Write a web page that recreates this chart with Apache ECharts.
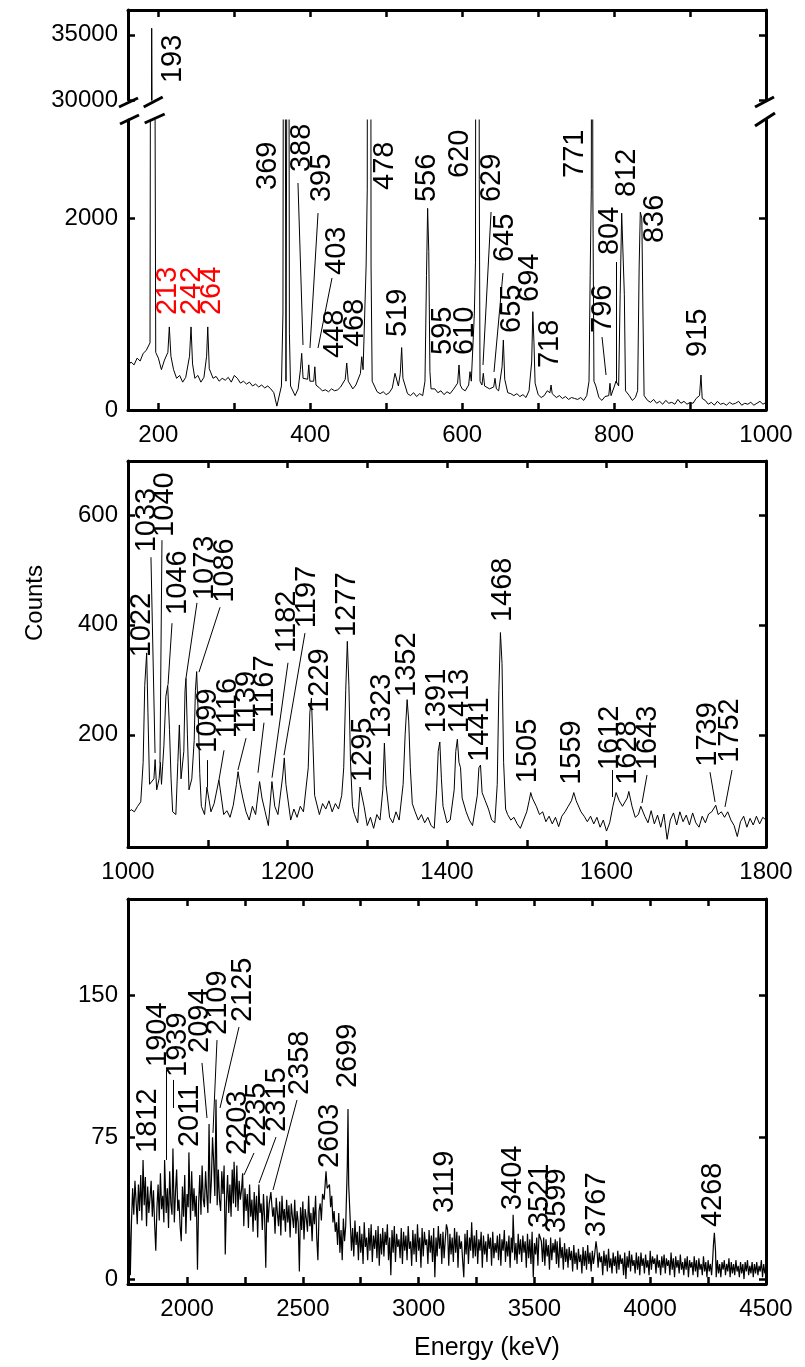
<!DOCTYPE html>
<html>
<head>
<meta charset="utf-8">
<script src="https://cdn.jsdelivr.net/npm/echarts@6.0.0/dist/echarts.min.js"></script>
<style>
  html, body { margin: 0; padding: 0; background: #fff; }
  #chart { width: 805px; height: 1367px; }
</style>
</head>
<body>
<div id="chart"></div>
<script>
// ---- panel 1 : 160-1000 keV (broken y axis) ----
const p1Start = 160, p1Step = 4;
const p1Background = [
  460, 500, 470, 540, 510, 590, 620, 690, 700, 680,
  540, 420, 520, 480, 560, 420, 330, 360, 290, 340,
  420, 380, 330, 360, 290, 340, 380, 360, 330, 350,
  300, 330, 310, 340, 290, 360, 330, 280, 300, 270,
  290, 250, 270, 240, 260, 230, 250, 220, 180, 40,
  250, 300, 300, 300, 200, 150, 220, 300, 300, 350,
  300, 240, 200, 230, 200, 210, 190, 220, 200, 210,
  240, 330, 400, 300, 220, 260, 350, 400, 400, 400,
  400, 300, 190, 170, 190, 160, 180, 230, 380, 250,
  300, 210, 170, 150, 180, 140, 170, 150, 210, 300,
  220, 220, 180, 200, 160, 190, 170, 210, 250, 300,
  220, 200, 290, 300, 300, 300, 300, 300, 240, 220,
  250, 260, 200, 300, 250, 180, 170, 150, 170, 140,
  160, 130, 200, 300, 300, 160, 130, 150, 200, 250,
  180, 130, 150, 120, 140, 110, 130, 120, 110, 130,
  100, 150, 300, 300, 250, 130, 100, 140, 170, 200,
  250, 250, 250, 250, 250, 150, 100, 130, 200, 200,
  150, 100, 80, 110, 70, 90, 60, 100, 70, 80,
  60, 110, 70, 90, 60, 80, 70, 120, 150, 150,
  100, 60, 80, 50, 90, 60, 70, 50, 80, 60,
  70, 90, 50, 70, 60, 80, 50, 70, 90, 60,
  80
];
const p1Peaks = [
  [189, 700], [189.8, 5000], [191.2, 35500], [192.5, 20000], [194.5, 8000], [195.5, 3500], [196.5, 600],
  [212.5, 600], [214.4, 865], [216.5, 560],
  [241, 560], [243, 865], [245, 480],
  [263.5, 560], [265, 865], [267, 430],
  [362, 250], [364, 1000], [365.5, 9000], [371, 9000], [372.5, 800], [374, 250],
  [387, 420], [388.7, 590], [390.5, 330],
  [396.5, 320], [398, 470], [399.5, 300],
  [404.5, 300], [406, 450], [407.5, 260],
  [446, 320], [448, 489], [450, 300],
  [466, 380], [467.7, 555], [469.5, 420],
  [472, 400], [473.5, 1500], [475, 2300], [476, 12000], [479, 12000], [480, 1500], [481.5, 300],
  [511.5, 382],
  [518.5, 380], [520.3, 650], [522, 330],
  [551, 300], [553, 1400], [554.5, 2100], [556, 1650], [557.5, 400], [559, 220],
  [594, 280], [595.8, 469], [597.5, 260],
  [608.5, 260], [610.3, 399], [612, 300],
  [614, 300], [616, 1000], [617.5, 1540], [618.5, 9000], [621.5, 9000], [622.5, 2400], [623.5, 300],
  [626, 260], [627.8, 382], [629.5, 250],
  [641.5, 240], [643.2, 330], [645, 220],
  [652.5, 450], [654.2, 729], [656, 320],
  [691.5, 500], [693, 1024], [694.5, 700], [696, 280],
  [715.5, 180], [717, 260], [718.5, 170],
  [767, 300], [768.5, 1400], [770, 2300], [771, 9000], [772, 2300], [773.5, 300],
  [793, 150], [794.6, 278], [796, 150],
  [800.5, 250], [802.5, 300],
  [806, 250], [808, 1200], [810, 2050], [812, 2050], [813.5, 1200], [815, 200],
  [831, 200], [833, 1500], [834.5, 2060], [836.5, 2000], [838, 1000], [839.5, 150],
  [912.5, 150], [914.4, 364], [916, 120]
];
const p1TopLabels = [[219, 31300, '193']];
const p1Labels = [
  [212.7, 989, '213'], [244.3, 989, '242'], [270.6, 989, '264'],
  [344.3, 2291, '369'], [389.1, 2478, '388'], [415.4, 2166, '395'], [435.2, 1406, '403'],
  [432.5, 541, '448'], [458.9, 656, '468'], [498.4, 2291, '478'], [515.5, 760, '519'],
  [553.7, 2166, '556'], [574.7, 573, '595'], [603.7, 573, '610'], [597.1, 2416, '620'],
  [639.3, 2166, '629'], [656.4, 1541, '645'], [665.6, 802, '655'], [689.3, 1125, '694'],
  [715.6, 437, '718'], [748.5, 2416, '771'], [785.4, 802, '796'], [794.6, 1614, '804'],
  [817.0, 2218, '812'], [853.9, 1739, '836'], [910.5, 552, '915']
];
const p1Leaders = [
  [383.8, 2364, 390.4, 677], [410.2, 2051, 399.6, 646], [428.6, 1375, 410.2, 646],
  [638, 2062, 627.4, 469], [653.7, 1427, 641.9, 396], [784.1, 760, 789.4, 364],
  [802.5, 1541, 802.5, 281]
];
const redLabels = ['213', '242', '264'];
const p1XTicks = [200, 300, 400, 500, 600, 700, 800, 900, 1000];
const p1XLabels = [200, 400, 600, 800, 1000];
const p1TopYTicks = [30000, 35000];
const p1LowYTicks = [0, 2000];

// ---- panel 2 : 1000-1800 keV ----
const p2Start = 1000, p2Step = 4;
const p2Background = [
  58, 64, 60, 70, 78, 150, 250, 90, 120, 95,
  130, 150, 200, 250, 130, 55, 80, 150, 90, 150,
  120, 200, 200, 75, 55, 70, 60, 75, 65, 80,
  55, 62, 50, 72, 90, 110, 85, 60, 45, 70,
  55, 80, 85, 60, 35, 100, 70, 55, 80, 120,
  60, 45, 65, 50, 70, 60, 75, 200, 150, 70,
  55, 75, 65, 80, 60, 75, 65, 90, 200, 300,
  120, 55, 40, 80, 70, 35, 50, 30, 55, 45,
  150, 90, 50, 40, 60, 45, 70, 200, 230, 120,
  60, 45, 55, 40, 50, 35, 30, 150, 150, 55,
  40, 45, 50, 150, 150, 110, 60, 45, 35, 50,
  130, 110, 80, 65, 45, 40, 250, 350, 150, 55,
  45, 50, 38, 30, 45, 60, 80, 75, 70, 55,
  60, 42, 52, 38, 50, 33, 52, 60, 70, 80,
  85, 75, 60, 52, 42, 52, 38, 50, 32, 45,
  25, 40, 70, 90, 80, 70, 60, 90, 70, 50,
  55, 65, 52, 40, 62, 38, 54, 32, 56, 10,
  45, 58, 36, 60, 42, 54, 36, 58, 40, 32,
  52, 40, 56, 60, 65, 55, 60, 50, 60, 45,
  35, 15, 42, 52, 32, 48, 36, 52, 38, 50,
  45
];
const p2Peaks = [
  [1019, 150], [1021, 290], [1023.4, 349], [1025, 240], [1027, 110],
  [1032.5, 120], [1034, 155], [1036, 100],
  [1039, 120], [1040.5, 150], [1042, 110],
  [1045, 180], [1047.5, 270], [1049.8, 290], [1052, 210], [1054, 120], [1056, 60],
  [1062.5, 150], [1064.4, 218], [1066.5, 120],
  [1070, 170], [1071.5, 280], [1072.7, 303], [1074.5, 200], [1076.5, 100],
  [1083, 190], [1084.5, 280], [1086.1, 315], [1088, 240], [1090, 130], [1092, 70],
  [1099, 105], [1114, 118],
  [1136, 110], [1138, 133], [1140.5, 110],
  [1165, 115], [1180.5, 115],
  [1194, 125], [1196, 158], [1198, 110],
  [1226, 140], [1228, 240], [1230, 267], [1232, 180], [1234, 90],
  [1270.5, 140], [1273, 280], [1275, 370], [1277, 290], [1279, 150], [1281.5, 70],
  [1291, 105],
  [1319.5, 100], [1321.5, 185], [1323.5, 110],
  [1345, 110], [1347.5, 200], [1350, 264], [1352, 225], [1354, 140], [1356.5, 75],
  [1387, 100], [1389, 170], [1391, 187], [1393, 120], [1395, 70],
  [1409, 100], [1411, 170], [1413, 192], [1415, 150], [1417, 140], [1419, 85],
  [1438, 90], [1440, 140], [1442, 145], [1444, 95],
  [1463, 110], [1465, 280], [1467, 386], [1469, 330], [1471, 150], [1473.5, 65],
  [1503, 80], [1505, 95], [1507, 85],
  [1556, 80], [1559, 95], [1562, 80],
  [1612, 95], [1626, 85], [1628, 97], [1643, 70], [1737, 72], [1752, 60]
];
const p2Labels = [
  [1017.6, 341, '1022'], [1023.8, 532, '1033'], [1046.4, 560, '1040'], [1062.7, 418, '1046'],
  [1096.6, 445, '1073'], [1121.6, 440, '1086'], [1100.3, 167, '1099'], [1125.4, 194, '1116'],
  [1149.2, 203, '1139'], [1171.8, 231, '1167'], [1199.4, 349, '1182'], [1224.5, 394, '1197'],
  [1240.8, 240, '1229'], [1274.6, 378, '1277'], [1294.7, 114, '1295'], [1318.5, 194, '1323'],
  [1349.8, 269, '1352'], [1387.5, 203, '1391'], [1416.3, 203, '1413'], [1441.4, 151, '1441'],
  [1470.2, 405, '1468'], [1501.6, 112, '1505'], [1556.7, 109, '1559'], [1604.4, 136, '1612'],
  [1627.0, 109, '1628'], [1652.0, 136, '1643'], [1727.3, 142, '1739'], [1754.9, 149, '1752']
];
const p2Leaders = [
  [1028.8, 523, 1033.9, 167], [1042.6, 554, 1040.1, 149], [1055.2, 403, 1050.2, 291],
  [1086.5, 440, 1072.7, 303], [1115.4, 432, 1089.0, 314], [1099.1, 154, 1099.1, 105],
  [1120.4, 172, 1114.1, 118], [1148.0, 194, 1137.9, 136], [1170.5, 222, 1163.0, 131],
  [1200.6, 331, 1180.6, 122], [1221.9, 385, 1195.6, 163], [1606.9, 136, 1606.9, 87],
  [1650.8, 127, 1644.5, 76], [1729.8, 132, 1736.1, 78], [1757.4, 136, 1748.6, 69]
];
const p2XTicks = [1000, 1100, 1200, 1300, 1400, 1500, 1600, 1700, 1800];
const p2XLabels = [1000, 1200, 1400, 1600, 1800];
const p2YTicks = [200, 400, 600];

// ---- panel 3 : 1745-4500 keV, 5 keV bins ----
const p3Start = 1745, p3Step = 5;
const p3Background = [
  38, 45, 2, 30, 48, 34, 52, 41, 29, 50, 36, 55, 31, 46, 39, 54, 28, 49, 35, 43,
  52, 33, 47, 29, 15, 38, 50, 31, 56, 37, 44, 30, 53, 35, 48, 27, 57, 40, 34, 51,
  30, 46, 58, 36, 42, 28, 20, 49, 33, 55, 24, 45, 38, 52, 31, 57, 36, 48, 33, 44,
  5, 40, 55, 34, 60, 42, 38, 57, 45, 35, 61, 40, 52, 37, 62, 44, 48, 39, 58, 42,
  36, 57, 45, 60, 13, 41, 55, 35, 50, 33, 58, 40, 54, 38, 60, 36, 52, 42, 47, 35,
  28, 48, 36, 45, 27, 50, 33, 42, 25, 46, 31, 44, 22, 47, 35, 40, 26, 45, 32, 6,
  44, 30, 40, 26, 45, 33, 38, 24, 43, 35, 28, 41, 23, 44, 31, 37, 25, 42, 30, 39,
  22, 40, 33, 27, 42, 24, 36, 30, 4, 38, 26, 41, 21, 37, 32, 25, 44, 28, 35, 20,
  38, 29, 44, 22, 10, 36, 40, 31, 45, 27, 42, 35, 48, 41, 50, 38, 44, 30, 36, 25,
  30, 18, 35, 14, 26, 10, 32, 20, 28, 8, 34, 22, 30, 15, 27, 12, 31, 18, 25, 10,
  28, 14, 24, 8, 30, 17, 22, 10, 27, 15, 29, 9, 23, 16, 26, 11, 28, 7, 24, 13,
  27, 12, 25, 18, 29, 10, 22, 2, 26, 14, 28, 9, 24, 17, 21, 11, 27, 8, 25, 15,
  23, 10, 28, 16, 20, 7, 26, 13, 24, 9, 29, 15, 22, 6, 27, 12, 25, 18, 21, 8,
  26, 14, 23, 9, 27, 1, 22, 12, 28, 16, 24, 8, 25, 11, 21, 15, 26, 7, 24, 13,
  22, 9, 27, 14, 25, 6, 23, 16, 20, 10, 1, 24, 13, 26, 8, 22, 15, 25, 11, 23,
  12, 26, 8, 21, 15, 25, 6, 23, 13, 20, 9, 24, 16, 22, 7, 25, 11, 19, 14, 23,
  10, 24, 7, 21, 15, 26, 9, 20, 12, 23, 6, 22, 14, 25, 10, 19, 8, 24, 13, 21,
  9, 23, 14, 20, 6, 24, 11, 21, 8, 25, 1, 19, 13, 22, 7, 24, 12, 20, 9, 22,
  7, 21, 12, 18, 5, 22, 10, 19, 14, 24, 8, 20, 6, 22, 11, 17, 5, 19, 9, 16,
  6, 17, 10, 15, 4, 18, 8, 14, 5, 16, 9, 13, 3, 17, 7, 15, 5, 18, 8, 14,
  4, 15, 8, 13, 3, 16, 6, 14, 9, 12, 2, 15, 7, 13, 4, 16, 6, 11, 3, 14,
  7, 12, 3, 15, 5, 13, 8, 11, 2, 14, 0, 12, 6, 15, 4, 13, 7, 10, 3, 14,
  5, 12, 2, 14, 7, 11, 3, 13, 6, 10, 2, 15, 5, 12, 8, 11, 3, 13, 6, 10,
  2, 12, 6, 13, 3, 11, 7, 10, 2, 14, 5, 11, 1, 12, 6, 10, 3, 13, 5, 9,
  2, 11, 5, 12, 1, 10, 6, 9, 2, 12, 4, 10, 1, 11, 5, 8, 2, 12, 4, 9,
  1, 10, 4, 8, 2, 11, 5, 9, 1, 10, 3, 8, 1, 9, 5, 10, 2, 8, 4, 11,
  1, 9, 3, 8, 2, 10, 4, 7, 1, 9, 3, 8, 0, 9, 4, 10, 2, 7, 3, 9,
  1, 8, 3, 9, 2, 7, 4, 10, 1, 8, 3, 6
];
const p3Peaks = [
  [1810, 63], [1903, 63], [1939, 69], [2008, 67],
  [2095, 82], [2110, 75], [2125, 95],
  [2203, 62], [2240, 56], [2310, 50], [2362, 46],
  [2592, 42], [2600, 57], [2608, 48],
  [2692, 60], [2695, 90], [2698, 50],
  [3120, 29], [3229, 30], [3408, 34], [3525, 23], [3590, 21], [3598, 20], [3766, 20],
  [4273, 18], [4277, 24.5], [4282, 15]
];
const p3Labels = [
  [1831.4, 66.7, '1812'], [1874.5, 112.2, '1904'], [1960.9, 106.9, '1939'], [2012.7, 69.8, '2011'],
  [2055.9, 119.6, '2094'], [2133.6, 129.1, '2109'], [2241.6, 135.9, '2125'], [2220.0, 65.6, '2203'],
  [2302.0, 69.8, '2235'], [2388.4, 77.8, '2315'], [2487.7, 97.3, '2358'], [2617.3, 58.7, '2603'],
  [2695.0, 101.0, '2699'], [3113.9, 34.9, '3119'], [3407.5, 36.5, '3404'], [3524.1, 27.0, '3521'],
  [3597.5, 24.4, '3599'], [3770.2, 22.3, '3767'], [4271.1, 27.5, '4268']
];
const p3Leaders = [
  [1909.1, 110.6, 1909.1, 63.0], [1939.3, 105.3, 1939.3, 90.5], [2064.5, 114.3, 2086.1, 85.2],
  [2129.3, 126.4, 2112.0, 77.3], [2224.3, 133.3, 2142.3, 90.5], [2289.1, 66.7, 2245.9, 55.0],
  [2384.1, 75.1, 2310.7, 50.8], [2474.8, 94.7, 2371.1, 47.1]
];
const p3XTicks = [2000, 2250, 2500, 2750, 3000, 3250, 3500, 3750, 4000, 4250, 4500];
const p3XLabels = [2000, 2500, 3000, 3500, 4000, 4500];
const p3YTicks = [0, 75, 150];

const FONT = 'Liberation Sans, Arial, sans-serif';
const AXIS_LINE = { color: '#000', width: 3 };

// background bins + peak points -> one sorted spectrum
function buildSpectrum(start, step, counts, peaks) {
  const pts = [];
  counts.forEach((c, i) => {
    const e = start + i * step;
    if (!peaks.some(p => Math.abs(p[0] - e) <= step / 2)) pts.push([e, c]);
  });
  peaks.forEach(p => pts.push([p[0], p[1]]));
  return pts.sort((a, b) => a[0] - b[0]);
}

function makeAxis(kind, gridIndex, position, min, max, ticks, labels) {
  return {
    type: 'value', gridIndex, position, min, max,
    axisLine: { show: true, onZero: false, lineStyle: AXIS_LINE },
    axisTick: { show: true, inside: true, length: 7, customValues: ticks, lineStyle: { color: '#000', width: 2.5 } },
    axisLabel: labels
      ? {
          show: true, customValues: labels, color: '#000', fontSize: 24, fontFamily: FONT,
          margin: kind === 'x' ? 13 : 10, formatter: v => String(v)
        }
      : { show: false },
    splitLine: { show: false }
  };
}

function lineSeries(xi, yi, data, width) {
  return {
    type: 'line', xAxisIndex: xi, yAxisIndex: yi, data,
    symbol: 'none', clip: true, animation: false, silent: true,
    lineStyle: { color: '#000', width: width || 1 }
  };
}

function labelSeries(xi, yi, items) {
  return {
    type: 'scatter', xAxisIndex: xi, yAxisIndex: yi, symbolSize: 0, silent: true, animation: false, z: 5,
    itemStyle: { color: '#000' },
    data: items.map(l => ({
      name: l[2], value: [l[0], l[1]],
      label: { color: redLabels.includes(l[2]) ? '#ff0000' : '#000' }
    })),
    label: {
      show: true, formatter: '{b}', rotate: 90, position: 'inside',
      align: 'left', verticalAlign: 'middle', fontSize: 29, fontFamily: FONT,
      color: '#000', textBorderWidth: 0, opacity: 1
    }
  };
}

function leaderSeries(xi, yi, items) {
  return {
    type: 'lines', coordinateSystem: 'cartesian2d', xAxisIndex: xi, yAxisIndex: yi,
    silent: true, animation: false, z: 4,
    lineStyle: { color: '#000', width: 1, opacity: 1 },
    data: items.map(l => ({ coords: [[l[0], l[1]], [l[2], l[3]]] }))
  };
}

const spec1 = buildSpectrum(p1Start, p1Step, p1Background, p1Peaks);
const spec2 = buildSpectrum(p2Start, p2Step, p2Background, p2Peaks);
const spec3 = buildSpectrum(p3Start, p3Step, p3Background, p3Peaks);

const chart = echarts.init(document.getElementById('chart'));

const option = {
  backgroundColor: '#fff',
  animation: false,
  grid: [
    { left: 128, width: 638, top: 10, height: 90, outerBoundsMode: 'none' },
    { left: 128, width: 638, top: 120, height: 290, outerBoundsMode: 'none' },
    { left: 128, width: 638, top: 461, height: 386, outerBoundsMode: 'none' },
    { left: 128, width: 638, top: 899, height: 385, outerBoundsMode: 'none' }
  ],
  xAxis: [
    makeAxis('x', 0, 'top', 160, 1000, p1XTicks, null),
    makeAxis('x', 1, 'bottom', 160, 1000, p1XTicks, p1XLabels),
    makeAxis('x', 2, 'bottom', 1000, 1800, p2XTicks, p2XLabels),
    makeAxis('x', 2, 'top', 1000, 1800, p2XTicks, null),
    makeAxis('x', 3, 'bottom', 1745, 4500, p3XTicks, p3XLabels),
    makeAxis('x', 3, 'top', 1745, 4500, p3XTicks, null)
  ],
  yAxis: [
    makeAxis('y', 0, 'left', 30000, 36900, p1TopYTicks, p1TopYTicks),
    makeAxis('y', 0, 'right', 30000, 36900, p1TopYTicks, null),
    makeAxis('y', 1, 'left', 0, 3020, p1LowYTicks, p1LowYTicks),
    makeAxis('y', 1, 'right', 0, 3020, p1LowYTicks, null),
    makeAxis('y', 2, 'left', -4, 698, p2YTicks, p2YTicks),
    makeAxis('y', 2, 'right', -4, 698, p2YTicks, null),
    makeAxis('y', 3, 'left', -2.6, 201, p3YTicks, p3YTicks),
    makeAxis('y', 3, 'right', -2.6, 201, p3YTicks, null)
  ],
  series: [
    lineSeries(0, 0, spec1),
    lineSeries(1, 2, spec1),
    lineSeries(2, 4, spec2),
    lineSeries(4, 6, spec3, 1.2),
    labelSeries(0, 0, p1TopLabels),
    labelSeries(1, 2, p1Labels),
    labelSeries(2, 4, p2Labels),
    labelSeries(4, 6, p3Labels),
    leaderSeries(1, 2, p1Leaders),
    leaderSeries(2, 4, p2Leaders),
    leaderSeries(4, 6, p3Leaders)
  ]
};
chart.setOption(option);

// axis break marks "//" on both frame sides and across the 193 keV peak
const breakX = chart.convertToPixel({ xAxisIndex: 1 }, 191.2);
const slash = (x1, y1, x2, y2) => ({
  type: 'line', shape: { x1, y1, x2, y2 }, style: { stroke: '#000', lineWidth: 3 }, z: 10
});
chart.setOption({
  graphic: [
    slash(119, 107, 138, 98), slash(120, 124, 139, 115),
    slash(breakX - 8, 107, breakX + 11, 97), slash(breakX - 7, 123, breakX + 13, 114),
    slash(755, 107, 774, 97), slash(755, 126, 775, 113),
    {
      type: 'text', x: 35, y: 603, rotation: Math.PI / 2, z: 10,
      style: { text: 'Counts', fill: '#000', font: '24px ' + FONT, align: 'center', verticalAlign: 'middle' }
    },
    {
      type: 'text', x: 487, y: 1348, z: 10,
      style: { text: 'Energy (keV)', fill: '#000', font: '25px ' + FONT, align: 'center', verticalAlign: 'middle' }
    }
  ]
});
</script>
</body>
</html>
